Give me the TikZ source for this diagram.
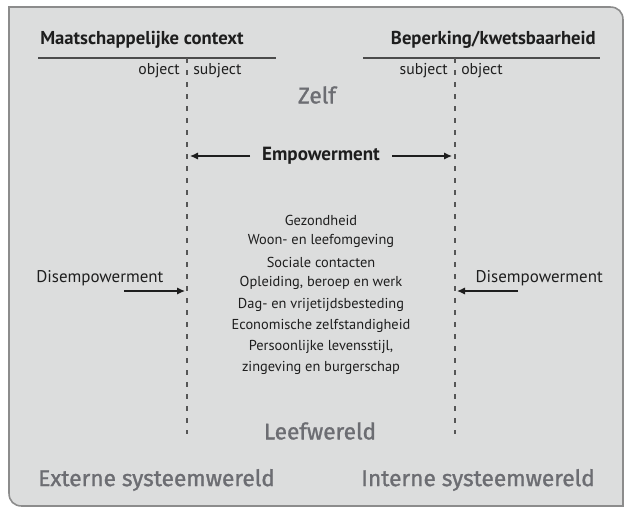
\documentclass[tikz,border=0pt]{standalone}
\usepackage{fontspec}
\setmainfont{PT Sans}
\newfontfamily\roundf[FakeBold=1.2]{Fira Sans}
\usetikzlibrary{arrows.meta}
\definecolor{bg}{HTML}{DCDDDD}
\definecolor{framec}{HTML}{8C8C8C}
\definecolor{ink}{HTML}{1E1E1E}
\definecolor{soft}{HTML}{6C6D72}
\begin{document}
\begin{tikzpicture}[x=0.75pt,y=-0.75pt,
  titlet/.style={font=\bfseries\fontsize{14}{16}\selectfont, text=ink, inner sep=0},
  empt/.style={font=\bfseries\fontsize{14.3}{16}\selectfont, text=ink, inner sep=0},
  labt/.style={font=\fontsize{11.8}{14}\selectfont, text=ink, inner sep=0},
  dist/.style={font=\fontsize{12.7}{15}\selectfont, text=ink, inner sep=0},
  listt/.style={font=\fontsize{10.8}{13}\selectfont, text=ink, inner sep=0},
  grayw/.style={font=\roundf\fontsize{17}{19}\selectfont, text=soft, inner sep=0},
  rule/.style={draw=ink!80, line width=1.3pt},
  dline/.style={draw=ink!75, line width=1.3pt, dash pattern=on 4pt off 5pt},
  arr/.style={draw=ink, line width=1pt, -{Latex[length=6pt,width=5.5pt]}}
]
\useasboundingbox (0,0) rectangle (624,508);
\fill[white] (0,0) rectangle (624,508);
% frame
\draw[framec, line width=1.2pt, fill=bg]
  (9,7) -- (610,7) .. controls (618,7) and (623,12) .. (623,20)
  -- (623,506) -- (22,506) .. controls (14,506) and (9,501) .. (9,493) -- cycle;

% titles and rules
\node[titlet, anchor=west] (mc) at (40,40) {Maatschappelijke context};
\node[titlet, anchor=east] (bk) at (596,40) {Beperking/kwetsbaarheid};
\coordinate (l1) at (38,58); \coordinate (l2) at (276,58);
\coordinate (r1) at (363,58); \coordinate (r2) at (600,58);
\draw[rule] (l1) -- (l2);
\draw[rule] (r1) -- (r2);

% dashed lines
\coordinate (dlt) at (187,58); \coordinate (dlb) at (187,434);
\coordinate (drt) at (455,58); \coordinate (drb) at (455,434);
\draw[dline] (dlt) -- (dlb);
\draw[dline] (drt) -- (drb);

\node[labt, anchor=east] (objl) at (180,71) {object};
\node[labt, anchor=west] (subl) at (193,71) {subject};
\node[labt, anchor=east] (subr) at (448,71) {subject};
\node[labt, anchor=west] (objr) at (461,71) {object};

\node[grayw] (zelf) at (317,95) {Zelf};

% empowerment
\node[empt] (emp) at (321,156) {Empowerment};
\coordinate (ea1) at (250,156); \coordinate (ea2) at (190,156);
\coordinate (eb1) at (392,156); \coordinate (eb2) at (452,156);
\draw[arr] (ea1) -- (ea2);
\draw[arr] (eb1) -- (eb2);

% list
\node[listt] (g1) at (321,220) {Gezondheid};
\node[listt] (g2) at (321,241) {Woon- en leefomgeving};
\node[listt] (g3) at (321,262) {Sociale contacten};
\node[listt] (g4) at (321,283) {Opleiding, beroep en werk};
\node[listt] (g5) at (321,305) {Dag- en vrijetijdsbesteding};
\node[listt] (g6) at (321,326) {Economische zelfstandigheid};
\node[listt] (g7) at (321,347) {Persoonlijke levensstijl,};
\node[listt] (g8) at (321,368) {zingeving en burgerschap};

% disempowerment
\node[dist, anchor=west] (dl) at (36,278) {Disempowerment};
\node[dist, anchor=east] (dr) at (603,278) {Disempowerment};
\coordinate (da1) at (124,291); \coordinate (da2) at (185,291);
\coordinate (db1) at (518,291); \coordinate (db2) at (457,291);
\draw[arr] (da1) -- (da2);
\draw[arr] (db1) -- (db2);

% gray words
\node[grayw] (lw) at (320,431) {Leefwereld};
\node[grayw, anchor=west] (ext) at (38,480) {Externe systeemwereld};
\node[grayw, anchor=east] (int) at (595,480) {Interne systeemwereld};
\end{tikzpicture}
\end{document}
